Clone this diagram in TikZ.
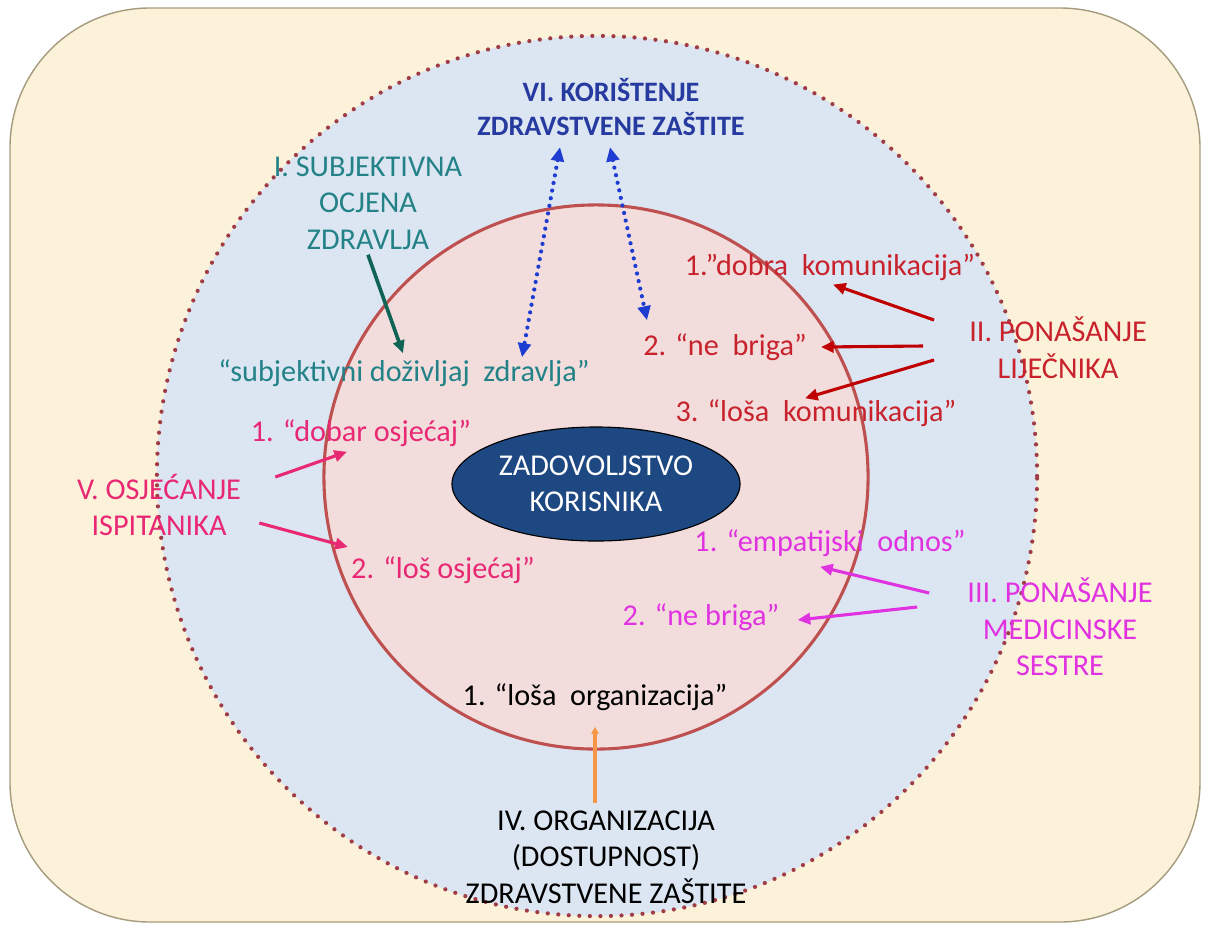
\documentclass[tikz,border=0pt]{standalone}
\usepackage{fontspec}
\setmainfont{Carlito}
\usepackage{tikz}
\usetikzlibrary{arrows.meta,shapes.geometric}

\definecolor{bgbeige}{RGB}{252,241,217}
\definecolor{rimgray}{RGB}{165,155,125}
\definecolor{outerblue}{RGB}{220,230,242}
\definecolor{dotred}{RGB}{160,60,70}
\definecolor{innerpink}{RGB}{242,221,220}
\definecolor{innerline}{RGB}{190,80,80}
\definecolor{navyfill}{RGB}{30,72,130}
\definecolor{titleblue}{RGB}{38,58,160}
\definecolor{tealtxt}{RGB}{35,130,135}
\definecolor{tealarr}{RGB}{15,100,85}
\definecolor{redtxt}{RGB}{200,35,45}
\definecolor{redarr}{RGB}{192,0,0}
\definecolor{pinktxt}{RGB}{232,40,115}
\definecolor{magtxt}{RGB}{225,50,225}
\definecolor{orgline}{RGB}{247,150,70}
\definecolor{bluedot}{RGB}{30,60,210}

\begin{document}
\begin{tikzpicture}[x=0.025cm,y=-0.025cm,
  lbl/.style={align=center,inner sep=0pt,font=\fontsize{21.5}{26}\selectfont},
  arr/.style={line width=2.2pt,-{Triangle[length=9pt,width=8pt]}},
  dotarr/.style={bluedot,line width=3pt,dash pattern=on 0pt off 5.5pt,line cap=round,
    {Triangle[length=10pt,width=9pt]}-{Triangle[length=10pt,width=9pt]}}]
\useasboundingbox (0,0) rectangle (1208,929);
% ---- rings ----
\draw[fill=bgbeige,draw=rimgray,line width=1pt,rounded corners=3.5cm] (10,8) rectangle (1200,922);
\draw[fill=outerblue,draw=dotred,line width=3pt,dash pattern=on 0pt off 7.5pt,line cap=round]
  (597,476) circle[x radius=11cm,y radius=11cm];
\draw[fill=innerpink,draw=innerline,line width=2.2pt] (596,477) circle[x radius=6.8cm,y radius=6.8cm];
\node[lbl,ellipse,fill=navyfill,draw=black,line width=0.8pt,text=white,
  minimum width=7.2cm,minimum height=2.85cm] (zad) at (596,484) {ZADOVOLJSTVO\\KORISNIKA};
% ---- VI. koristenje ----
\node[lbl,font=\fontsize{20}{24.5}\selectfont\bfseries,text=titleblue] (kor) at (611,107) {VI. KORIŠTENJE\\ZDRAVSTVENE ZAŠTITE};
% ---- I. subjektivna ocjena ----
\node[lbl,text=tealtxt] (subj) at (368,203) {I. SUBJEKTIVNA\\OCJENA\\ZDRAVLJA};
\node[lbl,text=tealtxt] (subjdoz) at (404,373) {“subjektivni doživljaj\ \ zdravlja”};
% ---- II. lijecnik ----
\node[lbl,text=redtxt] (dobra) at (830,267) {1.”dobra\ \ komunikacija”};
\node[lbl,text=redtxt] (nebrigaL) at (725,347) {2. “ne\ \ briga”};
\node[lbl,text=redtxt] (losakom) at (816,413) {3. “loša\ \ komunikacija”};
\node[lbl,text=redtxt] (lijec) at (1058,348) {II. PONAŠANJE\\LIJEČNIKA};
% ---- V. osjecanje ----
\node[lbl,text=pinktxt] (dobar) at (361,433) {1. “dobar osjećaj”};
\node[lbl,text=pinktxt] (osjec) at (159,505) {V. OSJEĆANJE\\ISPITANIKA};
\node[lbl,text=pinktxt] (los) at (443,570) {2. “loš osjećaj”};
% ---- III. sestra ----
\node[lbl,text=magtxt] (empat) at (830,543) {1. “empatijski\ \ odnos”};
\node[lbl,text=magtxt] (nebrigaS) at (701,617) {2. “ne briga”};
\node[lbl,text=magtxt] (sestra) at (1060,627) {III. PONAŠANJE\\MEDICINSKE\\SESTRE};
% ---- IV. organizacija ----
\node[lbl] (losaorg) at (595,697) {1. “loša\ \ organizacija”};
\node[lbl] (org) at (606,857) {IV. ORGANIZACIJA\\(DOSTUPNOST)\\ZDRAVSTVENE ZAŠTITE};
% ---- connectors ----
\draw[dotarr] ([shift={(-51,11)}]kor.south) -- ([shift={(118,-2)}]subjdoz.north);
\draw[dotarr] ([shift={(-1,11)}]kor.south) -- ([shift={(-78,-13)}]nebrigaL.north);
\draw[arr,tealarr,line width=2.6pt] ([shift={(0,5)}]subj.south) -- ([shift={(-1,-6)}]subjdoz.north);
\draw[arr,redarr] ([shift={(-35,-28)}]lijec.west) -- ([shift={(3,4)}]dobra.south);
\draw[arr,redarr] ([shift={(-46,-2)}]lijec.west) -- ([shift={(14,0)}]nebrigaL.east);
\draw[arr,redarr] ([shift={(-35,12)}]lijec.west) -- ([shift={(-11,-1)}]losakom.north);
\draw[arr,pinktxt] ([shift={(34,-28)}]osjec.east) -- ([shift={(-14,5)}]dobar.south);
\draw[arr,pinktxt] ([shift={(18,18)}]osjec.east) -- ([shift={(-3,-23)}]los.west);
\draw[arr,magtxt] ([shift={(-38,-34)}]sestra.west) -- ([shift={(-10,10)}]empat.south);
\draw[arr,magtxt] ([shift={(-50,-20)}]sestra.west) -- ([shift={(18,3)}]nebrigaS.east);
\draw[orgline,line width=2.6pt,-{Triangle[length=5pt,width=5pt]}] ([shift={(-11,-7)}]org.north) -- ([shift={(0,16)}]losaorg.south);
\end{tikzpicture}
\end{document}
